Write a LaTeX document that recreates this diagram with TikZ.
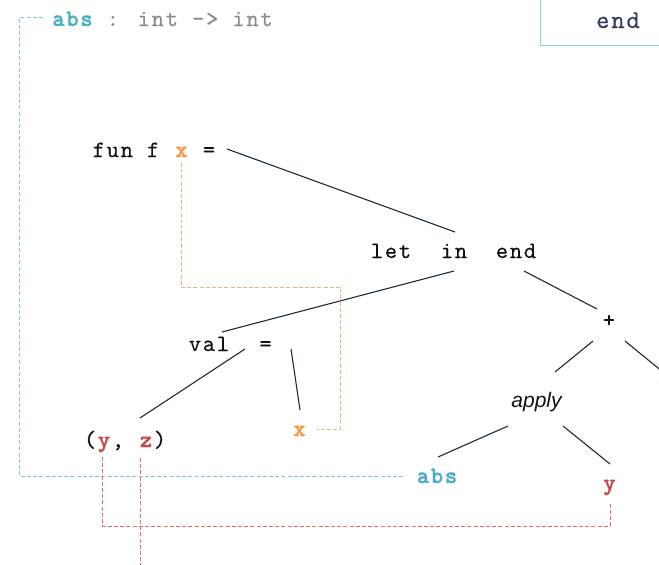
\documentclass[tikz,border=0pt]{standalone}
\usepackage{fontspec}
\usetikzlibrary{calc}
% typewriter faces for the code tokens, sans italic for the "apply" label
\newfontfamily\codefont{lmmono10-regular}[Extension=.otf, LetterSpace=7.1, FakeBold=0.3]
\newfontfamily\codebold{lmmonolt10-bold}[Extension=.otf, LetterSpace=7.1, FakeBold=1.4]
\newfontfamily\labelfont{Liberation Sans}

\definecolor{ink}{HTML}{111111}
\definecolor{edgecol}{HTML}{1C2A3C}
\definecolor{sigray}{HTML}{8A8A8A}
\definecolor{absblue}{HTML}{4AAEC8}
\definecolor{bluelink}{HTML}{7CC8D8}
\definecolor{varred}{HTML}{C84B4B}
\definecolor{redlink}{HTML}{DC6E6E}
\definecolor{varorange}{HTML}{F59A45}
\definecolor{orangelink}{HTML}{F2AE78}
\definecolor{boxblue}{HTML}{8FCBD8}
\definecolor{boxtext}{HTML}{2B3D5B}

\begin{document}
\begin{tikzpicture}[x=1pt, y=-1pt,
  tok/.style={font=\codefont\fontsize{23.5}{28}\selectfont, text=ink, inner sep=0pt, anchor=base},
  boldtok/.style={tok, font=\codebold\fontsize{23.5}{28}\selectfont},
  edge/.style={draw=edgecol, line width=1.1pt},
  link/.style={line width=1pt, dash pattern=on 4pt off 2.2pt},
  bluedash/.style={link, draw=bluelink},
  reddash/.style={link, draw=redlink},
  orangedash/.style={link, draw=orangelink}]

\useasboundingbox (0,0) rectangle (659,565);
\clip (0,0) rectangle (659,565);

% ---- type signature at the top
\node[boldtok, text=absblue] (absTop) at (72.5,26) {abs};
\node[tok, text=sigray, anchor=base west] (sigRest) at (106.5,26) {: int -> int};

% ---- box peeking in at the top right
\node[font=\codefont\fontsize{25.5}{30}\selectfont, text=boxtext, draw=boxblue,
      line width=1pt, inner sep=0pt, text height=40pt, text depth=17pt,
      minimum width=156pt, anchor=base] (endBox) at (618,28) {end};

% ---- syntax tree tokens
\node[tok] (funKw) at (126,157) {fun f};
\node[boldtok, text=varorange] (xFun) at (181.5,157) {x};
\node[tok] (funEq) at (209,157) {=};

\node[tok] (letKw) at (391,258) {let};
\node[tok] (inKw) at (454,258) {in};
\node[tok] (endKw) at (516,258) {end};

\node[tok, anchor=center] (plus) at (609,321) {+};

\node[tok] (valKw) at (209,351) {val};
\node[tok] (valEq) at (265.5,351) {=};

\node[tok] (tupOpen) at (90,447) {(};
\node[boldtok, text=varred] (yTup) at (104,447) {y};
\node[tok] (tupComma) at (118,447) {,};
\node[boldtok, text=varred] (zTup) at (146,447) {z};
\node[tok] (tupClose) at (160,447) {)};

\node[boldtok, text=varorange] (xVal) at (299.5,436) {x};

\node[font=\labelfont\itshape\fontsize{21}{25}\selectfont, text=ink, inner sep=0pt, anchor=base] (apply) at (536.5,407) {apply};
\node[boldtok, text=absblue] (absBot) at (437,483) {abs};
\node[boldtok, text=varred] (yR) at (609.5,490) {y};

% ---- tree edges
\draw[edge] ([shift={(18,-8)}]funEq.base) -- ([shift={(1,-26)}]inKw.base);
\draw[edge] ([shift={(0,13)}]inKw.base) -- ([shift={(13,-19)}]valKw.base);
\draw[edge] ([shift={(8,13)}]endKw.base) -- ([shift={(-12,-12)}]plus.center);
\draw[edge] ([shift={(-16,20)}]plus.center) -- ([shift={(18.5,-35)}]apply.base);
\coordinate (plusRight) at (680,386);
\draw[edge] ([shift={(16,20)}]plus.center) -- (plusRight);
\draw[edge] ([shift={(-20.5,-2)}]valEq.base) -- ([shift={(-6,-29)}]zTup.base);
\draw[edge] ([shift={(25.5,-2)}]valEq.base) -- ([shift={(0.5,-26)}]xVal.base);
\draw[edge] ([shift={(-28.5,19)}]apply.base) -- ([shift={(1,-26)}]absBot.base);
\draw[edge] ([shift={(26.5,19)}]apply.base) -- ([shift={(0.5,-26)}]yR.base);

% ---- binding links
\coordinate (absTopW) at ([shift={(-29.5,-8.7)}]absTop.base);
\coordinate (absBotW) at ([shift={(-32,-7)}]absBot.base);
\coordinate (railL) at (19.5,0);
\draw[bluedash] (absTopW) -- (absTopW -| railL) |- (absBotW);

\coordinate (yTupS) at ([shift={(-1.7,10)}]yTup.base);
\coordinate (yRS) at ([shift={(0.5,13)}]yR.base);
\coordinate (railB) at (0,526);
\draw[reddash] (yTupS) -- (yTupS |- railB) -| (yRS);

\coordinate (zTupS) at ([shift={(-6,11)}]zTup.base);
\coordinate (offBottom) at (0,575);
\draw[reddash] (zTupS) -- (zTupS |- offBottom);

\coordinate (xFunS) at ([shift={(-0.5,6)}]xFun.base);
\coordinate (xValE) at ([shift={(17.5,-7)}]xVal.base);
\coordinate (railO) at (340,287);
\draw[orangedash] (xFunS) |- (railO) |- (xValE);
\end{tikzpicture}
\end{document}
